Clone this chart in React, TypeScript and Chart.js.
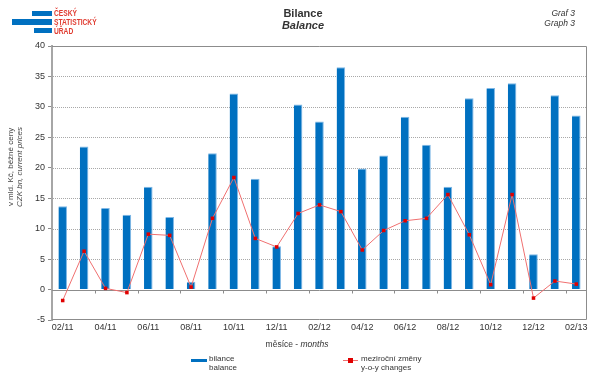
import React, { useEffect, useRef } from "react";
import { Chart, registerables } from "chart.js";

Chart.register(...registerables);

const months = [
  "02/11", "03/11", "04/11", "05/11", "06/11", "07/11", "08/11", "09/11", "10/11", "11/11", "12/11",
  "01/12", "02/12", "03/12", "04/12", "05/12", "06/12", "07/12", "08/12", "09/12", "10/12", "11/12", "12/12",
  "01/13", "02/13",
];
const balance = [
  13.7, 23.5, 13.4, 12.3, 16.9, 11.9, 1.3, 22.4, 32.2, 18.2, 7.1, 30.4,
  27.6, 36.5, 19.9, 22.0, 28.4, 23.8, 16.9, 31.4, 33.1, 33.9, 5.8, 31.9, 28.6,
];
const yoyChanges = [
  -1.8, 6.3, 0.2, -0.5, 9.1, 8.9, 0.4, 11.7, 18.4, 8.4, 7.0, 12.5,
  13.9, 12.8, 6.5, 9.7, 11.3, 11.7, 15.6, 9.0, 0.8, 15.6, -1.4, 1.4, 0.9,
];
const yMin = -5;
const yMax = 40;
const yStep = 5;

const FONT = "'Liberation Sans', Arial, sans-serif";

const framePlugin = {
  id: "frame",
  beforeDatasetsDraw(chart: any) {
    const { ctx, chartArea } = chart;
    const y = chart.scales.y;
    const x = chart.scales.x;
    ctx.save();
    // dotted gridlines
    ctx.strokeStyle = "#a8a8a8";
    ctx.lineWidth = 1;
    ctx.setLineDash([1, 1]);
    for (let v = yMin + yStep; v < yMax; v += yStep) {
      if (v === 0) continue;
      const py = Math.round(y.getPixelForValue(v)) + 0.5;
      ctx.beginPath();
      ctx.moveTo(chartArea.left + 1, py);
      ctx.lineTo(chartArea.right, py);
      ctx.stroke();
    }
    ctx.setLineDash([]);
    // frame top / right / bottom
    ctx.strokeStyle = "#8c8c8c";
    const top = Math.round(chartArea.top) + 0.5;
    const bottom = Math.round(chartArea.bottom) - 0.5;
    const right = Math.round(chartArea.right) - 0.5;
    ctx.beginPath();
    ctx.moveTo(chartArea.left, top);
    ctx.lineTo(right, top);
    ctx.lineTo(right, bottom);
    ctx.lineTo(chartArea.left, bottom);
    ctx.stroke();
    // zero line with ticks
    const zy = Math.round(y.getPixelForValue(0)) + 0.5;
    ctx.strokeStyle = "#8c8c8c";
    ctx.beginPath();
    ctx.moveTo(chartArea.left, zy);
    ctx.lineTo(chartArea.right, zy);
    const n = months.length;
    for (let k = 2; k < n; k += 2) {
      const px = Math.round((x.getPixelForValue(k - 1) + x.getPixelForValue(k)) / 2) + 0.5;
      ctx.moveTo(px, zy);
      ctx.lineTo(px, zy + 3);
    }
    ctx.stroke();
    ctx.restore();
  },
};

export default function App() {
  const ref = useRef<HTMLCanvasElement | null>(null);

  useEffect(() => {
    if (!ref.current) return;
    const chart = new Chart(ref.current, {
      type: "bar",
      data: {
        labels: months,
        datasets: [
          {
            type: "line",
            label: "meziroční změny",
            data: yoyChanges,
            borderColor: "#f07070",
            borderWidth: 1,
            backgroundColor: "#e00000",
            pointBackgroundColor: "#e00000",
            pointBorderColor: "#e00000",
            pointStyle: "rect",
            pointRadius: 2.5,
            pointBorderWidth: 0,
            tension: 0,
            order: 0,
          },
          {
            type: "bar",
            label: "bilance",
            data: balance,
            backgroundColor: "#0070c0",
            borderColor: "#7fb8e6",
            borderWidth: { top: 1, right: 1, left: 0, bottom: 0 },
            borderSkipped: false,
            categoryPercentage: 1,
            barPercentage: 0.4,
            order: 1,
          },
        ],
      },
      options: {
        responsive: false,
        animation: false,
        events: [],
        layout: { padding: { top: 46, right: 13, left: 0, bottom: 0 } },
        plugins: {
          legend: { display: false },
          tooltip: { enabled: false },
          title: { display: false },
        },
        scales: {
          x: {
            offset: true,
            grid: { display: false, drawTicks: false },
            border: { display: false },
            ticks: {
              autoSkip: false,
              maxRotation: 0,
              minRotation: 0,
              padding: 2,
              color: "#333333",
              font: { family: FONT, size: 9 },
              callback: (_v: any, i: number) => (i % 2 === 0 ? months[i] : ""),
            },
            afterFit: (s: any) => {
              s.height = 58;
            },
          },
          y: {
            min: yMin,
            max: yMax,
            ticks: {
              stepSize: yStep,
              padding: 3,
              color: "#333333",
              font: { family: FONT, size: 9 },
            },
            grid: {
              drawOnChartArea: false,
              drawTicks: true,
              tickLength: 4,
              tickColor: "#8c8c8c",
            },
            border: { display: true, color: "#a6a6a6", width: 2 },
            afterFit: (s: any) => {
              s.width = 52;
            },
          },
        },
      },
      plugins: [framePlugin],
    } as any);
    return () => chart.destroy();
  }, []);

  const abs = (o: React.CSSProperties): React.CSSProperties => ({ position: "absolute", ...o });
  const txt: React.CSSProperties = { fontFamily: FONT, color: "#333333", whiteSpace: "nowrap" };

  return (
    <div style={{ position: "absolute", left: 0, top: 0, width: 600, height: 378, background: "#fff", overflow: "hidden" }}>
      <canvas ref={ref} width={600} height={378} style={{ display: "block", width: 600, height: 378 }} />
      {/* logo */}
      <div style={abs({ left: 32, top: 11, width: 20, height: 5, background: "#0070c0" })} />
      <div style={abs({ left: 12, top: 19, width: 40, height: 6, background: "#0070c0" })} />
      <div style={abs({ left: 34, top: 28, width: 18, height: 5, background: "#0070c0" })} />
      <div
        style={abs({
          ...txt,
          left: 54,
          top: 9,
          color: "#e03c31",
          fontWeight: "bold",
          fontSize: 9.5,
          lineHeight: "8.8px",
          transform: "scaleX(0.7)",
          transformOrigin: "left top",
        })}
      >
        <div>ČESKÝ</div>
        <div>STATISTICKÝ</div>
        <div>ÚŘAD</div>
      </div>
      {/* title */}
      <div style={abs({ ...txt, left: 203, width: 200, top: 7, textAlign: "center", fontWeight: "bold", fontSize: 11, lineHeight: "12px" })}>
        <div>Bilance</div>
        <div style={{ fontStyle: "italic" }}>Balance</div>
      </div>
      {/* graph number */}
      <div style={abs({ ...txt, right: 25, top: 8, textAlign: "right", fontStyle: "italic", fontSize: 8.5, lineHeight: "10px" })}>
        <div>Graf 3</div>
        <div>Graph 3</div>
      </div>
      {/* y title */}
      <div
        style={abs({
          ...txt,
          left: 15,
          top: 167,
          color: "#444444",
          transform: "translate(-50%, -50%) rotate(-90deg)",
          textAlign: "center",
          fontSize: 8,
          lineHeight: "9px",
        })}
      >
        <div>v mld. Kč, běžné ceny</div>
        <div style={{ fontStyle: "italic" }}>CZK bn, current prices</div>
      </div>
      {/* x title */}
      <div style={abs({ ...txt, left: 197, width: 200, top: 339, textAlign: "center", fontSize: 8.5 })}>
        měsíce - <span style={{ fontStyle: "italic" }}>months</span>
      </div>
      {/* legend */}
      <div style={abs({ left: 191, top: 359, width: 16, height: 3, background: "#0070c0" })} />
      <div style={abs({ ...txt, left: 209, top: 355, fontSize: 8, lineHeight: "8.5px" })}>
        <div>bilance</div>
        <div>balance</div>
      </div>
      <div style={abs({ left: 343, top: 360, width: 15, height: 1, background: "#f07070" })} />
      <div style={abs({ left: 348, top: 358, width: 5, height: 5, background: "#e00000" })} />
      <div style={abs({ ...txt, left: 361, top: 355, fontSize: 8, lineHeight: "8.5px" })}>
        <div>meziroční změny</div>
        <div>y-o-y changes</div>
      </div>
    </div>
  );
}
